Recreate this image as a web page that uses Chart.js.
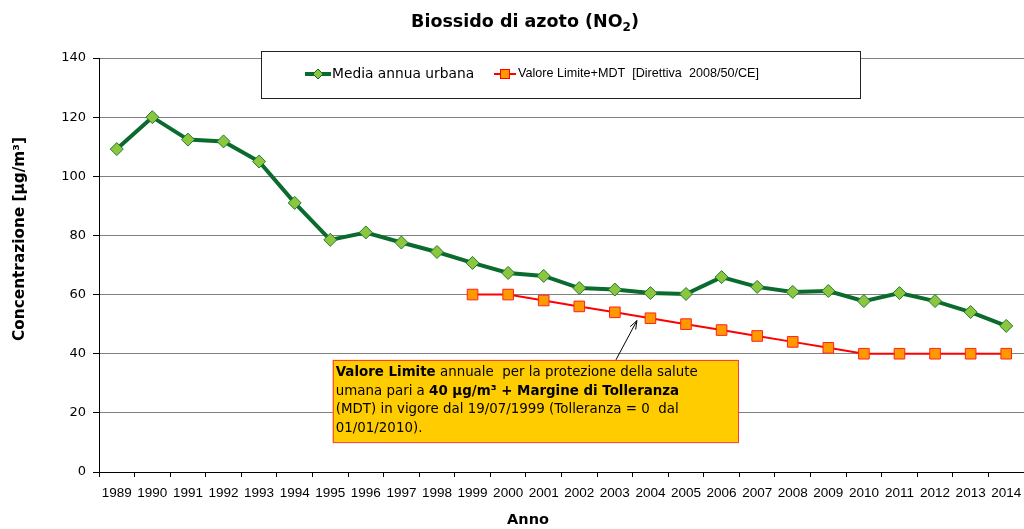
<!DOCTYPE html>
<html>
<head>
<meta charset="utf-8">
<title>Biossido di azoto (NO2)</title>
<script src="https://cdn.jsdelivr.net/npm/chart.js@4"></script>
<style>
  html, body { margin: 0; padding: 0; background: #fff; overflow: hidden; }
  #wrap { width: 1024px; height: 529px; }
</style>
</head>
<body>
<div id="wrap"><canvas id="chart" width="1024" height="529"></canvas></div>
<script>
// anni e valori (µg/m³)
const years = ['1989', '1990', '1991', '1992', '1993', '1994', '1995', '1996', '1997', '1998', '1999', '2000', '2001',
  '2002', '2003', '2004', '2005', '2006', '2007', '2008', '2009', '2010', '2011', '2012', '2013', '2014'];
const mediaAnnua = [109.2, 120.0, 112.4, 111.8, 105.0, 91.0, 78.5, 81.0, 77.6, 74.4, 70.7, 67.3, 66.3,
  62.2, 61.7, 60.5, 60.2, 65.9, 62.6, 60.9, 61.2, 57.8, 60.5, 57.8, 54.1, 49.4];
const valoreLimite = [null, null, null, null, null, null, null, null, null, null, 60, 60, 58,
  56, 54, 52, 50, 48, 46, 44, 42, 40, 40, 40, 40, 40];
const yTicks = [0, 20, 40, 60, 80, 100, 120, 140];

const legendLabels = ['Media annua urbana', 'Valore Limite+MDT  [Direttiva  2008/50/CE]'];
const noteLines = [
  [['b', 'Valore Limite'], ['n', ' annuale  per la protezione della salute']],
  [['n', 'umana pari a '], ['b', '40 μg/m³ + Margine di Tolleranza']],
  [['n', '(MDT) in vigore dal 19/07/1999 (Tolleranza = 0  dal']],
  [['n', '01/01/2010).']]
];

const FONT = '"DejaVu Sans", Verdana, sans-serif';
const NARROW = '"Liberation Sans", Arial, sans-serif';

// titoli, legenda in riquadro e nota con freccia
const extras = {
  id: 'extras',
  afterDraw(chart) {
    const { ctx, scales: { x, y } } = chart;
    ctx.save();
    ctx.fillStyle = '#000';
    ctx.textBaseline = 'middle';

    // titolo con pedice
    const t1 = 'Biossido di azoto (NO', t2 = '2', t3 = ')';
    ctx.font = 'bold 17.5px ' + FONT;
    const w1 = ctx.measureText(t1).width, w3 = ctx.measureText(t3).width;
    ctx.font = 'bold 12px ' + FONT;
    const w2 = ctx.measureText(t2).width;
    let tx0 = 525 - (w1 + w2 + w3) / 2;
    ctx.textAlign = 'left';
    ctx.font = 'bold 17.5px ' + FONT;
    ctx.fillText(t1, tx0, 22);
    ctx.font = 'bold 12px ' + FONT;
    ctx.fillText(t2, tx0 + w1, 28);
    ctx.font = 'bold 17.5px ' + FONT;
    ctx.fillText(t3, tx0 + w1 + w2, 22);

    // titoli degli assi
    ctx.textAlign = 'center';
    ctx.font = 'bold 14.5px ' + FONT;
    ctx.fillText('Anno', 528, 520);
    ctx.save();
    ctx.translate(20, 239);
    ctx.rotate(-Math.PI / 2);
    ctx.font = 'bold 15.3px ' + FONT;
    ctx.fillText('Concentrazione [µg/m³]', 0, 0);
    ctx.restore();

    // nota
    const bx1 = x.getPixelForValue(6.07), bx2 = x.getPixelForValue(17.46);
    const by1 = y.getPixelForValue(37.9), by2 = y.getPixelForValue(10.1);
    const ax = x.getPixelForValue(14.03), px = x.getPixelForValue(14.62), py = y.getPixelForValue(51.2);
    ctx.strokeStyle = '#000';
    ctx.lineWidth = 1;
    ctx.beginPath();
    ctx.moveTo(ax, by1);
    ctx.lineTo(px, py);
    ctx.stroke();
    const ang = Math.atan2(py - by1, px - ax);
    ctx.beginPath();
    ctx.moveTo(px - 9 * Math.cos(ang - 0.35), py - 9 * Math.sin(ang - 0.35));
    ctx.lineTo(px, py);
    ctx.lineTo(px - 9 * Math.cos(ang + 0.35), py - 9 * Math.sin(ang + 0.35));
    ctx.stroke();

    ctx.fillStyle = '#FFCC00';
    ctx.fillRect(bx1, by1, bx2 - bx1, by2 - by1);
    ctx.strokeStyle = '#FF3333';
    ctx.strokeRect(bx1 + 0.5, by1 + 0.5, bx2 - bx1, by2 - by1);
    ctx.fillStyle = '#000';
    ctx.textAlign = 'left';
    noteLines.forEach((parts, i) => {
      let lx = bx1 + 3;
      const ly = by1 + 12.5 + i * 18.6;
      parts.forEach(([w, t]) => {
        ctx.font = (w === 'b' ? 'bold ' : '') + '13.4px ' + FONT;
        ctx.fillText(t, lx, ly);
        lx += ctx.measureText(t).width;
      });
    });

    // legenda
    const gx = 261, gy = 51, gw = 599, gh = 47;
    ctx.fillStyle = '#fff';
    ctx.fillRect(gx, gy, gw, gh);
    ctx.strokeStyle = '#222';
    ctx.lineWidth = 1;
    ctx.strokeRect(gx + 0.5, gy + 0.5, gw, gh);
    const cy = gy + 23;
    // serie 1
    ctx.strokeStyle = '#0B6B2E';
    ctx.lineWidth = 4;
    ctx.beginPath(); ctx.moveTo(305, cy); ctx.lineTo(331, cy); ctx.stroke();
    ctx.fillStyle = '#8CC63F';
    ctx.lineWidth = 1;
    ctx.beginPath();
    ctx.moveTo(318, cy - 5); ctx.lineTo(323, cy); ctx.lineTo(318, cy + 5); ctx.lineTo(313, cy); ctx.closePath();
    ctx.fill(); ctx.stroke();
    // serie 2
    ctx.strokeStyle = '#FF0000';
    ctx.lineWidth = 2;
    ctx.beginPath(); ctx.moveTo(494, cy); ctx.lineTo(516, cy); ctx.stroke();
    ctx.fillStyle = '#FF9900';
    ctx.lineWidth = 1;
    ctx.fillRect(500, cy - 5, 10, 10);
    ctx.strokeRect(500.5, cy - 4.5, 9, 9);

    ctx.fillStyle = '#000';
    ctx.font = '13.8px ' + FONT;
    ctx.fillText(legendLabels[0], 332, cy);
    ctx.font = '12.6px ' + NARROW;
    ctx.fillText(legendLabels[1], 518, cy);
    ctx.restore();
  }
};

function draw() {
  const ctx = document.getElementById('chart').getContext('2d');
  new Chart(ctx, {
    type: 'line',
    data: {
      labels: years,
      datasets: [
        {
          label: legendLabels[0],
          data: mediaAnnua,
          borderColor: '#0B6B2E',
          borderWidth: 4,
          pointStyle: 'rectRot',
          pointRadius: 6.5,
          pointBackgroundColor: '#8CC63F',
          pointBorderColor: '#1F7A30',
          pointBorderWidth: 1,
          tension: 0
        },
        {
          label: legendLabels[1],
          data: valoreLimite,
          borderColor: '#FF0000',
          borderWidth: 2,
          pointStyle: 'rect',
          pointRadius: 7.5,
          pointBackgroundColor: '#FF9900',
          pointBorderColor: '#FF2020',
          pointBorderWidth: 1,
          tension: 0
        }
      ]
    },
    options: {
      responsive: false,
      animation: false,
      layout: { autoPadding: false, padding: { top: 58, right: 0, left: 0, bottom: 0 } },
      plugins: {
        legend: { display: false },
        tooltip: { enabled: false },
        title: { display: false }
      },
      scales: {
        x: {
          offset: true,
          grid: { display: true, offset: true, drawOnChartArea: false, drawTicks: true, tickLength: 5, tickColor: '#000' },
          border: { color: '#000', width: 1 },
          ticks: { color: '#000', font: { family: NARROW, size: 13.5 }, padding: 8, maxRotation: 0, autoSkip: false },
          afterFit(s) { s.height = 57; s.paddingLeft = 0; s.paddingRight = 0; }
        },
        y: {
          min: 0,
          max: 140,
          afterBuildTicks(s) { s.ticks = yTicks.map(v => ({ value: v })); },
          grid: { color: '#808080', lineWidth: 1, drawTicks: true, tickLength: 6, tickColor: '#000' },
          border: { color: '#000', width: 1 },
          ticks: { color: '#000', font: { family: FONT, size: 13 }, padding: 7 },
          afterFit(s) { s.width = 99; }
        }
      }
    },
    plugins: [extras]
  });
}

// i font locali vanno caricati prima di disegnare sul canvas
Promise.all([
  document.fonts.load('13px "Liberation Sans"'),
  document.fonts.load('13px "DejaVu Sans"'),
  document.fonts.load('bold 13px "DejaVu Sans"')
]).then(draw, draw);
</script>
</body>
</html>
